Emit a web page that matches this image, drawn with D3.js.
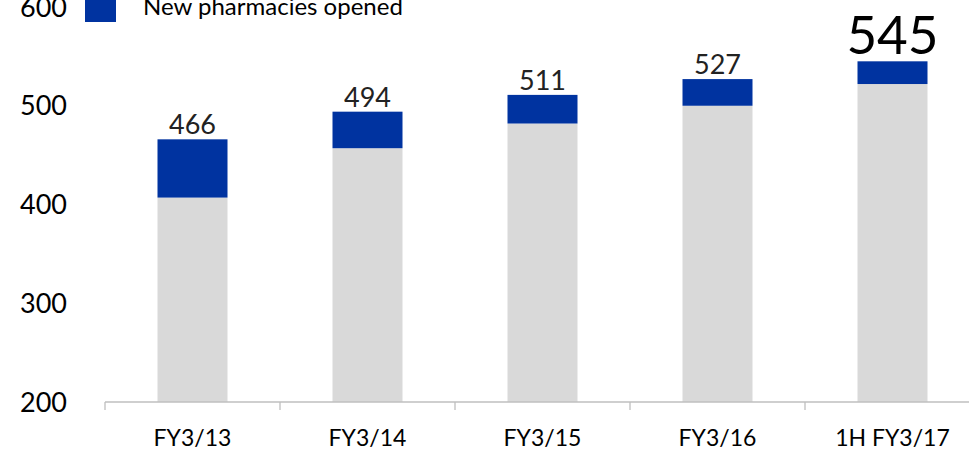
<!DOCTYPE html>
<html><head><meta charset="utf-8">
<script src="https://cdn.jsdelivr.net/npm/d3@7"></script>
<style>body{margin:0;background:#fff}svg{display:block;font-family:Lato,"Open Sans",sans-serif}</style>
</head><body><svg id="c" width="969" height="452"></svg>
<script>
const categories = ["FY3/13","FY3/14","FY3/15","FY3/16","1H FY3/17"];
const existing = [407,457,482,500,522];
const newOpened = [59,37,29,27,23];
const totals = [466,494,511,527,545];
const yTicks = [200,300,400,500,600];
const legendLabel = "New pharmacies opened";

const svg = d3.select("#c");
const x = d3.scaleBand().domain(categories).range([105,980]).paddingInner(0.6).paddingOuter(0.3);
const y = d3.scaleLinear().domain([200,600]).range([402,7]);
const grey = "#d9d9d9", blue = "#0033a0";

// y labels
svg.append("g").selectAll("text").data(yTicks).join("text")
  .attr("x",67).attr("y",d=>y(d)).attr("dy","0.36em").attr("text-anchor","end")
  .attr("font-size",27).attr("fill","#000").text(d=>d);

// bars
const g = svg.append("g");
categories.forEach((c,i)=>{
  g.append("rect").attr("x",x(c)).attr("width",x.bandwidth())
   .attr("y",y(existing[i])).attr("height",y(200)-y(existing[i])).attr("fill",grey);
  g.append("rect").attr("x",x(c)).attr("width",x.bandwidth())
   .attr("y",y(existing[i]+newOpened[i])).attr("height",y(existing[i])-y(existing[i]+newOpened[i])).attr("fill",blue);
});

// value labels
svg.append("g").selectAll("text").data(categories).join("text")
  .attr("x",d=>x(d)+x.bandwidth()/2)
  .attr("y",(d,i)=>y(totals[i]) - (i===4?7:5))
  .attr("text-anchor","middle")
  .attr("font-size",(d,i)=>i===4?53:27)
  .attr("fill",(d,i)=>i===4?"#000":"#222")
  .text((d,i)=>totals[i]);

// x axis
const axis = svg.append("g").attr("transform","translate(0,402)")
  .call(d3.axisBottom(x).tickSize(0).tickPadding(28));
axis.select(".domain").remove();
axis.append("line").attr("x1",105).attr("x2",980).attr("stroke","#bfbfbf").attr("stroke-width",1.3);
const bounds = categories.map((c,i)=>105+i*175);
axis.selectAll(".tk").data(bounds).join("line").attr("class","tk")
  .attr("x1",d=>d).attr("x2",d=>d).attr("y1",0).attr("y2",8).attr("stroke","#bfbfbf").attr("stroke-width",1.3);
axis.selectAll(".tick text").attr("font-size",23).attr("fill","#000").attr("font-family","Lato,'Open Sans',sans-serif");

// legend
svg.append("rect").attr("x",85).attr("y",-10).attr("width",31).attr("height",32).attr("fill",blue);
svg.append("text").attr("x",143).attr("y",15).attr("font-size",24).attr("fill","#000").text(legendLabel);
</script></body></html>
